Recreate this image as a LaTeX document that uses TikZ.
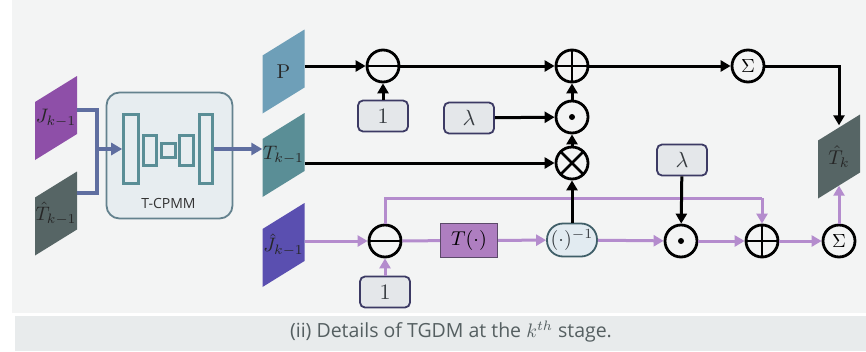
\documentclass[tikz,border=0pt]{standalone}
\usepackage{amsmath}
\usepackage{graphicx}
\usepackage{fontspec}
\usetikzlibrary{arrows.meta,calc}
\newfontfamily\capfont{Open Sans}
\newcommand{\sm}[2]{\scalebox{#1}{\fontsize{10}{12}\selectfont$#2$}}
\definecolor{bgmain}{RGB}{243,244,244}
\definecolor{bgcap}{RGB}{232,235,236}
\definecolor{captxt}{RGB}{85,95,97}
\definecolor{cJ}{RGB}{142,79,168}
\definecolor{cTh}{RGB}{86,101,101}
\definecolor{cP}{RGB}{110,159,184}
\definecolor{cT}{RGB}{90,142,150}
\definecolor{cJh}{RGB}{90,79,176}
\definecolor{slate}{RGB}{95,110,160}
\definecolor{encfill}{RGB}{231,237,240}
\definecolor{encdraw}{RGB}{100,130,142}
\definecolor{teal2}{RGB}{90,142,150}
\definecolor{pur}{RGB}{180,140,205}
\definecolor{boxfill}{RGB}{228,231,234}
\definecolor{boxdraw}{RGB}{60,58,100}
\definecolor{boxtxt}{RGB}{55,60,65}
\definecolor{tfill}{RGB}{174,126,192}
\definecolor{tdraw}{RGB}{92,74,106}
\definecolor{pillfill}{RGB}{226,235,241}
\definecolor{pilldraw}{RGB}{63,94,104}
\newcommand{\paral}[4]{%
  \fill[#3] ($(#2)+(-21,42)$) -- ($(#2)+(-21,-16)$) -- ($(#2)+(21,-42)$) -- ($(#2)+(21,16)$) -- cycle;
  \node[minimum width=42pt,minimum height=84pt,inner sep=0,text=black!85] (#1) at (#2) {#4};
}
\begin{document}
\begin{tikzpicture}[x=1pt,y=-1pt,
  opc/.style={circle,draw,line width=2.8pt,minimum size=32pt,inner sep=0},
  minusop/.style={opc,path picture={\draw[line width=2.8pt] (path picture bounding box.west) -- (path picture bounding box.east);}},
  plusop/.style={opc,path picture={\draw[line width=2.8pt] (path picture bounding box.west) -- (path picture bounding box.east) (path picture bounding box.north) -- (path picture bounding box.south);}},
  timesop/.style={opc,path picture={\draw[line width=2.8pt] (path picture bounding box.north west) -- (path picture bounding box.south east) (path picture bounding box.north east) -- (path picture bounding box.south west);}},
  dotop/.style={opc,path picture={\fill (path picture bounding box.center) circle (3pt);}},
  sumop/.style={opc},
  valbox/.style={draw=boxdraw,fill=boxfill,line width=1.8pt,rounded corners=5pt,minimum width=50pt,minimum height=31pt,inner sep=0,text=boxtxt},
  encr/.style={draw=teal2,fill=encfill,line width=2.6pt,inner sep=0},
  arr/.style={line width=3pt,-{Triangle[length=10pt,width=11pt]}},
  parr/.style={line width=3pt,pur,-{Triangle[length=10pt,width=11pt]}},
  pln/.style={line width=3pt,pur},
  sarr/.style={line width=3.2pt,slate,-{Triangle[length=11pt,width=12pt]}},
  sln/.style={line width=3.2pt,slate}
]
\useasboundingbox (0,0) rectangle (866,351);
\fill[bgmain] (12,0) rectangle (866,313);
\fill[bgcap] (15,316) rectangle (866,351);
\node[font=\capfont\fontsize{19.5}{22}\selectfont,text=captxt] (cap) at (451,332) {(ii) Details of TGDM at the \sm{1.95}{k^{th}} stage.};

% parallelograms
\paral{J}{56,118}{cJ}{\sm{1.95}{J_{k-1}}}
\paral{Th}{56,213.5}{cTh}{\sm{1.95}{\hat{T}_{k-1}}}
\paral{P}{283.5,71.5}{cP}{\sm{2}{\mathrm{P}}}
\paral{Tk}{283.5,155}{cT}{\sm{1.95}{T_{k-1}}}
\paral{Jh}{283.5,245}{cJh}{\sm{1.95}{\hat{J}_{k-1}}}
\paral{Thk}{839,156.5}{cTh}{\sm{2}{\hat{T}_{k}}}

% T-CPMM
\node[draw=encdraw,fill=encfill,line width=1.8pt,rounded corners=13pt,minimum width=126pt,minimum height=126pt] (cpmm) at (169.5,155.5) {};
\node[font=\capfont\fontsize{14}{16}\selectfont,text=black!80] (cpl) at (168.5,203) {T-CPMM};
\node[encr,minimum width=15pt,minimum height=69pt] (r1) at (131,149) {};
\node[encr,minimum width=13pt,minimum height=30pt] (r2) at (150,150.5) {};
\node[encr,minimum width=14pt,minimum height=14pt] (r3) at (168.5,150.5) {};
\node[encr,minimum width=14pt,minimum height=30pt] (r4) at (186.5,150.5) {};
\node[encr,minimum width=13pt,minimum height=69pt] (r5) at (206,149) {};

\coordinate (mg) at (97,149);
\draw[sln] ($(J.east)+(0,-8)$) -| (mg);
\draw[sln] ($(Th.east)+(0,-20.5)$) -| (mg);
\draw[sarr] (mg) -- (r1.west);
\draw[sarr] (r5.east) -- (r5.east -| Tk.west);

% top row
\node[minusop] (m1) at (383,66) {};
\node[valbox] (one1) at (383,116) {\sm{2.2}{1}};
\node[plusop] (a1) at (572,66) {};
\node[dotop] (d1) at (572,117) {};
\node[timesop] (x1) at (572,163) {};
\node[valbox] (lam1) at (469,118) {\sm{2.2}{\lambda}};
\node[sumop] (s1) at (748,66) {\sm{1.9}{\Sigma}};

% bottom row
\node[minusop] (m2) at (385,241) {};
\node[valbox] (one2) at (385,292) {\sm{2.2}{1}};
\node[draw=tdraw,fill=tfill,line width=1.4pt,minimum width=57pt,minimum height=34pt,inner sep=0] (tb) at (469,240.5) {\sm{2}{T(\cdot)}};
\node[draw=pilldraw,fill=pillfill,line width=1.8pt,rounded corners=16pt,minimum width=50pt,minimum height=33pt,inner sep=0,text=boxtxt] (inv) at (572,240) {\sm{2}{(\cdot)^{-1}}};
\node[dotop] (d2) at (681,241) {};
\node[valbox] (lam2) at (682,160) {\sm{2.2}{\lambda}};
\node[plusop] (a2) at (762,241) {};
\node[sumop] (s2) at (839,241) {\sm{1.9}{\Sigma}};

% purple connectors
\coordinate (tp) at (762,198);
\draw[parr] (Jh.east |- m2) -- (m2);
\draw[parr] (one2) -- (m2);
\draw[pln] (m2.north) |- (tp);
\draw[parr] (tp) -- (a2.north);
\draw[pln] (m2) -- (tb);
\draw[parr] (tb) -- (inv);
\draw[parr] (inv) -- (d2);
\draw[parr] (d2) -- (a2);
\draw[parr] (a2) -- (s2);
\draw[parr] (s2) -- ($(Thk.south)+(0,-13)$);

% black connectors
\draw[arr] (P.east |- m1) -- (m1);
\draw[arr] (one1) -- (m1);
\draw[arr] (m1) -- (a1);
\draw[arr] (lam1) -- (d1);
\draw[arr] (Tk.east |- x1) -- (x1);
\draw[arr] (x1) -- (d1);
\draw[arr] (d1) -- (a1);
\draw[arr] (a1) -- (s1);
\draw[arr] (s1.east) -| ($(Thk.north)+(0,11)$);
\draw[arr] (inv) -- (x1);
\draw[arr] (lam2) -- (d2);
\end{tikzpicture}
\end{document}
